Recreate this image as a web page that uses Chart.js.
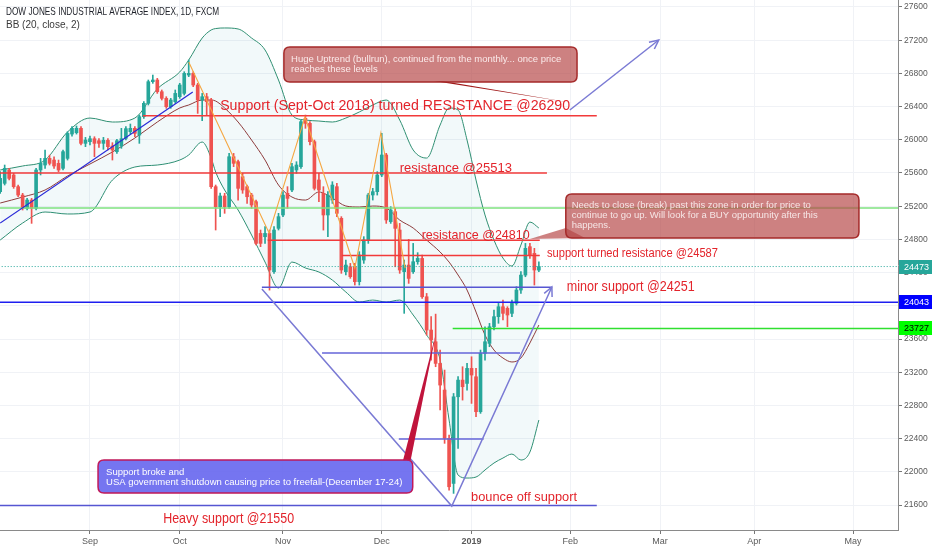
<!DOCTYPE html>
<html><head><meta charset="utf-8">
<script src="https://cdn.jsdelivr.net/npm/chart.js@4.4.1/dist/chart.umd.min.js"></script>
<style>html,body{margin:0;padding:0;background:#fff;}canvas{display:block;}</style>
</head><body>
<canvas id="c" width="932" height="550"></canvas>
<script>
// ---------- DATA ----------
const FIRST_BAR = -20; // bar index of the first candle (Sep 3 2018 = 0)
const opens = [
 25375,25475,25636,25576,25435,25334,25174,25274,25174,25636,
 25696,25776,25756,25716,25656,25776,26069,26086,26138,25957,
 25977,26013,25989,25957,25993,25925,25857,25925,26017,26098,
 26138,26057,26278,26439,26700,26720,26579,26499,26399,26459,
 26519,26559,26780,26800,26660,26479,26519,26479,25435,25194,
 25323,25194,25796,25736,25555,25435,25334,25254,24872,24832,
 24872,24411,24933,25094,25355,25395,25636,25676,26258,26198,
 25977,25516,25355,25094,25274,25435,25054,24411,24471,24471,
 24291,24551,24793,25335,25375,25576,25817,25014,25134,24913,
 24411,24491,24411,24531,24571,24109,23708,23567,23306,22985,
 22403,21860,22904,23105,23065,23246,23145,22724,23427,23547,
 23748,23869,23989,23969,23909,24029,24190,24370,24712,24632,
 24430];
const highs = [
 25616,25696,25656,25596,25455,25355,25294,25294,25656,25776,
 25877,25816,25796,25756,25877,26098,26158,26166,26158,26029,
 26045,26037,26013,26029,26013,25965,26005,26138,26158,26190,
 26158,26298,26459,26720,26780,26740,26600,26519,26499,26600,
 26680,26820,26961,26820,26680,26559,26559,26499,25455,25359,
 25355,25836,25836,25756,25596,25455,25355,25274,24913,24953,
 24913,24953,25114,25375,25435,25716,25736,26238,26298,26218,
 25997,25596,25435,25375,25495,25475,25074,24551,24511,24511,
 24652,24833,25355,25415,25616,26078,25837,25194,25174,24993,
 24551,24800,24752,24640,24611,24149,23869,23900,23467,23226,
 22443,22944,23146,23266,23306,23386,23246,23467,23748,23788,
 23949,24029,24069,23989,24069,24230,24411,24752,24752,24692,
 24531];
const lows = [
 25355,25455,25515,25415,25314,25154,25154,24993,25154,25576,
 25656,25696,25656,25616,25636,25756,26045,26069,25937,25917,
 25937,25796,25909,25885,25877,25756,25837,25897,25997,26069,
 26037,25957,26258,26419,26680,26559,26479,26379,26379,26439,
 26499,26539,26760,26640,26318,26230,26298,25415,24913,25074,
 25114,25174,25676,25274,25355,25234,25174,24732,24712,24752,
 24189,24391,24913,25074,25174,25375,25596,25656,26138,25937,
 25395,25254,24912,24833,25234,25074,24391,24371,24331,24250,
 24250,24511,24752,25274,25334,25556,24993,24993,24470,24391,
 23909,24270,24390,24500,24089,23648,23346,23266,22745,22343,
 21780,21740,22282,22864,22985,22824,22664,22704,23346,23507,
 23708,23789,23829,23748,23869,24009,24150,24350,24572,24250,
 24411];
const closes = [
 25535,25656,25535,25435,25334,25174,25274,25174,25636,25716,
 25776,25716,25684,25636,25857,26077,26138,26138,25957,25997,
 26013,25957,25957,25993,25917,25877,25989,26013,26134,26138,
 26077,26278,26439,26700,26720,26579,26499,26399,26479,26559,
 26660,26800,26800,26660,26479,26519,26459,25435,25194,25323,
 25194,25796,25716,25415,25395,25314,25214,24752,24752,24872,
 24431,24913,25074,25334,25294,25676,25696,26218,26198,25977,
 25415,25395,25094,25334,25455,25114,24431,24491,24351,24291,
 24612,24793,25335,25375,25576,25817,25034,25154,24933,24431,
 24491,24330,24531,24571,24109,23708,23588,23306,23045,22403,
 21820,22904,23105,23025,23246,23166,22724,23427,23567,23748,
 23869,23989,23909,23889,24029,24190,24370,24692,24612,24431,
 24473];

// Bollinger Bands (20, close, 2)
const bbIdx    = [-20,-15,-10,-5,0,5,10,15,20,22,25,27,28,30,33,36,39,42,45,48,51,54,57,60,63,66,69,72,75,78,80,82,84,86,88,90,92,94,96,98,100];
const bbUpper  = [25636,25684,25756,26094,26262,26214,26262,26612,26817,26961,27226,27323,27340,27347,27335,27226,27082,26720,26298,26238,26226,26214,26262,26335,26419,26479,26238,25877,25780,26178,26383,26359,25997,25515,25094,24792,24575,24479,24732,25009,24937];
const bbMiddle = [25238,25310,25395,25564,25708,25853,26021,26214,26383,26419,26479,26479,26467,26383,26214,25997,25756,25455,25310,25274,25371,25298,25202,25190,25202,25178,25033,24937,24792,24648,24527,24371,24190,23925,23648,23467,23371,23323,23371,23552,23768];
const bbLower  = [24792,24997,25130,25106,25130,25515,25672,25696,25756,25817,25973,25780,25612,25395,25154,24853,24527,24214,24527,24455,24407,24310,24166,24045,24069,24045,24069,23889,23648,23347,22624,21961,21925,21937,22022,22106,22166,22214,22142,22238,22624];

// axis ticks
const monthTicks  = [0,20,43,65,85,107,127,148,170];
const monthLabels = ['Sep','Oct','Nov','Dec','2019','Feb','Mar','Apr','May'];
const priceTicks  = [21600,22000,22400,22800,23200,23600,24000,24400,24800,25200,25600,26000,26400,26800,27200,27600];
const lastPrice = 24473;
const markedLevels = [24043, 23727];

// ---------- DRAWINGS (in bar-index / price space) ----------
const FONT = '"Liberation Sans", Arial, sans-serif';
const RED_T = '#e3242b';
const levelLines = [
 {y:26290, from:11.8,  to:112.9, color:'#f23a3a', w:1.4},
 {y:25600, from:-21,   to:101.8, color:'#f23a3a', w:1.4},
 {y:25178, from:-21,   to:181,   color:'#7fe27f', w:1.5},
 {y:24790, from:39.6,  to:100.2, color:'#f23a3a', w:1.4},
 {y:24606, from:56.1,  to:100.2, color:'#f23a3a', w:1.4},
 {y:24473, from:-21,   to:181,   color:'#26a69a', w:1, dash:[1,2]},
 {y:24222, from:38.3,  to:102.9, color:'#5656d2', w:1.5},
 {y:24043, from:-21,   to:181,   color:'#1e1ef0', w:1.4},
 {y:23727, from:80.8,  to:181,   color:'#30e030', w:1.4},
 {y:23431, from:51.7,  to:95.8,  color:'#6464d8', w:1.4},
 {y:22395, from:68.8,  to:87.7,  color:'#6464d8', w:1.4},
 {y:21594, from:-21,   to:112.9, color:'#5656d2', w:1.5},
];
const polyLines = [
 {pts:[[-20,24997],[22.9,26576]], color:'#2a2ad8', w:1.3},
 {pts:[[22.0,26937],[39.9,24877],[47.9,26274],[59.0,24455],[64.8,26082],[70.2,24455]], color:'#f5a742', w:1.1},
 {pts:[[38.3,24202],[80.6,21588],[102.9,24226]], color:'#7a7ad4', w:1.5, arrow:true},
 {pts:[[106.9,26359],[126.7,27202]], color:'#7a7ad4', w:1.5, arrow:true},
];
const callouts = [
 {x1:43.2, x2:108.5, y1:27118, y2:26696, fill:'rgba(182,70,70,0.68)', stroke:'#a52a2a',
  tail:[[76.6,26708],[78.6,26708],[107.6,26443]], tailFill:'#a01818',
  lines:['Huge Uptrend (bullrun), continued from the monthly... once price','reaches these levels'],
  tx:44.8, ty:[26973,26853], tw:276, color:'#fbeaea'},
 {x1:106.0, x2:171.3, y1:25347, y2:24817, fill:'rgba(182,70,70,0.68)', stroke:'#a52a2a',
  tail:[[106.0,24937],[98.0,24804],[110.3,24817]], tailFill:'rgba(182,70,70,0.68)',
  lines:['Needs to close (break) past this zone in order for price to','continue to go up. Will look for a BUY opportunity after this','happens.'],
  tx:107.3, ty:[25214,25094,24973], tw:252, color:'#f6e6e6'},
 {x1:1.8, x2:71.9, y1:22142, y2:21745, fill:'rgba(98,98,238,0.88)', stroke:'#c0185a',
  tail:[[69.7,22130],[71.4,22130],[77.1,23672]], tailFill:'#c0143c',
  lines:['Support broke and','USA government shutdown causing price to freefall-(December 17-24)'],
  tx:3.6, ty:[21997,21877], tw:299, color:'#ffffff'},
];
const textLabels = [
 {t:'Support (Sept-Oct 2018) turned RESISTANCE @26290', x:29.0, y:26407, size:15, w:350},
 {t:'resistance @25513', x:69.0, y:25660, size:13, w:120},
 {t:'resistance @24810', x:73.9, y:24853, size:13, w:108},
 {t:'support turned resistance @24587', x:101.8, y:24624, size:12.5, w:171},
 {t:'minor support @24251', x:106.2, y:24226, size:14.5, w:128},
 {t:'bounce off support', x:84.9, y:21696, size:13.5, w:106},
 {t:'Heavy support @21550', x:16.3, y:21431, size:14.5, w:131},
];

// ---------- CHART ----------
const xs = closes.map((_, i) => FIRST_BAR + i);
const candleColors = closes.map((c, i) => c >= opens[i] ? '#26a69a' : '#ef5350');
const band = arr => bbIdx.map((x, i) => ({x, y: arr[i]}));

function text(ctx, t, x, y, size, color, maxW, weight) {
  ctx.font = (weight || 'normal') + ' ' + size + 'px ' + FONT;
  ctx.fillStyle = color;
  ctx.textBaseline = 'middle';
  ctx.textAlign = 'left';
  const m = ctx.measureText(t).width;
  if (maxW && m > maxW) ctx.fillText(t, x, y, maxW); else ctx.fillText(t, x, y);
}
function roundRect(ctx, x, y, w, h, r) {
  ctx.beginPath();
  ctx.moveTo(x + r, y); ctx.lineTo(x + w - r, y); ctx.quadraticCurveTo(x + w, y, x + w, y + r);
  ctx.lineTo(x + w, y + h - r); ctx.quadraticCurveTo(x + w, y + h, x + w - r, y + h);
  ctx.lineTo(x + r, y + h); ctx.quadraticCurveTo(x, y + h, x, y + h - r);
  ctx.lineTo(x, y + r); ctx.quadraticCurveTo(x, y, x + r, y); ctx.closePath();
}

const drawings = {
  id: 'drawings',
  afterDatasetsDraw(chart) {
    const {ctx, chartArea: a} = chart;
    const X = v => chart.scales.x.getPixelForValue(v);
    const Y = v => chart.scales.y.getPixelForValue(v);
    ctx.save();
    ctx.beginPath(); ctx.rect(a.left, a.top, a.right - a.left, a.bottom - a.top); ctx.clip();
    levelLines.forEach(l => {
      const y = Y(l.y);
      ctx.beginPath(); ctx.setLineDash(l.dash || []);
      ctx.strokeStyle = l.color; ctx.lineWidth = l.w;
      ctx.moveTo(X(l.from), y); ctx.lineTo(X(l.to), y); ctx.stroke();
    });
    ctx.setLineDash([]);
    polyLines.forEach(p => {
      ctx.beginPath(); ctx.strokeStyle = p.color; ctx.lineWidth = p.w;
      p.pts.forEach((q, i) => { const px = X(q[0]), py = Y(q[1]); i ? ctx.lineTo(px, py) : ctx.moveTo(px, py); });
      ctx.stroke();
      if (p.arrow) {
        const n = p.pts.length;
        const x2 = X(p.pts[n-1][0]), y2 = Y(p.pts[n-1][1]);
        const x1 = X(p.pts[n-2][0]), y1 = Y(p.pts[n-2][1]);
        const ang = Math.atan2(y2 - y1, x2 - x1), L = 10;
        ctx.beginPath();
        ctx.moveTo(x2 - L * Math.cos(ang - 0.45), y2 - L * Math.sin(ang - 0.45));
        ctx.lineTo(x2, y2);
        ctx.lineTo(x2 - L * Math.cos(ang + 0.45), y2 - L * Math.sin(ang + 0.45));
        ctx.stroke();
      }
    });
    callouts.forEach(c => {
      ctx.beginPath(); ctx.fillStyle = c.tailFill;
      c.tail.forEach((q, i) => { const px = X(q[0]), py = Y(q[1]); i ? ctx.lineTo(px, py) : ctx.moveTo(px, py); });
      ctx.closePath(); ctx.fill();
      const x = X(c.x1), y = Y(c.y1), w = X(c.x2) - x, h = Y(c.y2) - y;
      roundRect(ctx, x, y, w, h, 6);
      ctx.fillStyle = c.fill; ctx.fill();
      ctx.strokeStyle = c.stroke; ctx.lineWidth = 1.5; ctx.stroke();
      c.lines.forEach((t, i) => text(ctx, t, X(c.tx), Y(c.ty[i]), 9.5, c.color, c.tw));
    });
    textLabels.forEach(l => text(ctx, l.t, X(l.x), Y(l.y), l.size, RED_T, l.w));
    ctx.restore();
  },
  afterDraw(chart) {
    const {ctx, chartArea: a} = chart;
    const Y = v => chart.scales.y.getPixelForValue(v);
    ctx.save();
    const tags = [
      {v: lastPrice, bg:'#26a69a', fg:'#ffffff'},
      {v: markedLevels[0], bg:'#0000ff', fg:'#ffffff'},
      {v: markedLevels[1], bg:'#00ff00', fg:'#000000'},
    ];
    tags.forEach(t => {
      const y = Y(t.v);
      ctx.fillStyle = t.bg; ctx.fillRect(a.right + 1, Math.round(y) - 7, 40, 14);
      text(ctx, String(t.v), a.right + 6, y + 0.5, 9, t.fg);
    });
    text(ctx, 'DOW JONES INDUSTRIAL AVERAGE INDEX, 1D, FXCM', 6, 12, 11.5, '#1e2129', 213);
    text(ctx, 'BB (20, close, 2)', 6, 25.5, 10, '#3a3a3a', 82);
    ctx.restore();
  }
};

new Chart(document.getElementById('c'), {
  type: 'bar',
  data: {
    datasets: [
      {type:'line', data: band(bbUpper), borderColor:'#2f8f72', borderWidth:1, pointRadius:0,
       cubicInterpolationMode:'monotone', fill:{target:2, above:'rgba(40,150,170,0.06)', below:'rgba(40,150,170,0.06)'}, order:3},
      {type:'line', data: band(bbMiddle), borderColor:'#8e3c3c', borderWidth:1, pointRadius:0,
       cubicInterpolationMode:'monotone', fill:false, order:2},
      {type:'line', data: band(bbLower), borderColor:'#2f8f72', borderWidth:1, pointRadius:0,
       cubicInterpolationMode:'monotone', fill:false, order:3},
      {type:'bar', data: xs.map((x, i) => ({x, y:[lows[i], highs[i]]})), backgroundColor: candleColors,
       barThickness:1, grouped:false, order:1},
      {type:'bar', data: xs.map((x, i) => ({x, y:[opens[i], closes[i]]})), backgroundColor: candleColors,
       barThickness:3, minBarLength:1, grouped:false, order:0},
    ]
  },
  options: {
    responsive:false, animation:false,
    layout:{padding:0},
    plugins:{legend:{display:false}, tooltip:{enabled:false}},
    scales:{
      x:{type:'linear', min:-20.04, max:180, offset:false,
         grid:{color:'#f0f2f6', offset:false, tickLength:4, tickColor:'#777'},
         border:{color:'#8a8a8a'},
         afterBuildTicks: s => { s.ticks = monthTicks.map(v => ({value:v})); },
         afterFit: s => { s.height = 20; s.paddingLeft = 0; s.paddingRight = 0; },
         ticks:{autoSkip:false, maxRotation:0, padding:2, color:'#5a5a5a',
           font: c => ({family:FONT, size:9, weight: (c.tick && c.tick.value === 85) ? 'bold' : 'normal'}),
           callback: v => { const k = monthTicks.indexOf(v); return k >= 0 ? monthLabels[k] : ''; }}},
      y:{type:'linear', position:'right', min:21299, max:27684,
         grid:{color:'#f0f2f6', tickLength:4, tickColor:'#777'},
         border:{color:'#8a8a8a'},
         afterBuildTicks: s => { s.ticks = priceTicks.map(v => ({value:v})); },
         afterFit: s => { s.width = 34; s.paddingTop = 0; s.paddingBottom = 0; },
         ticks:{padding:2, color:'#5a5a5a', font:{family:FONT, size:8.5}, callback: v => String(v)}}
    }
  },
  plugins:[drawings]
});
</script>
</body></html>
